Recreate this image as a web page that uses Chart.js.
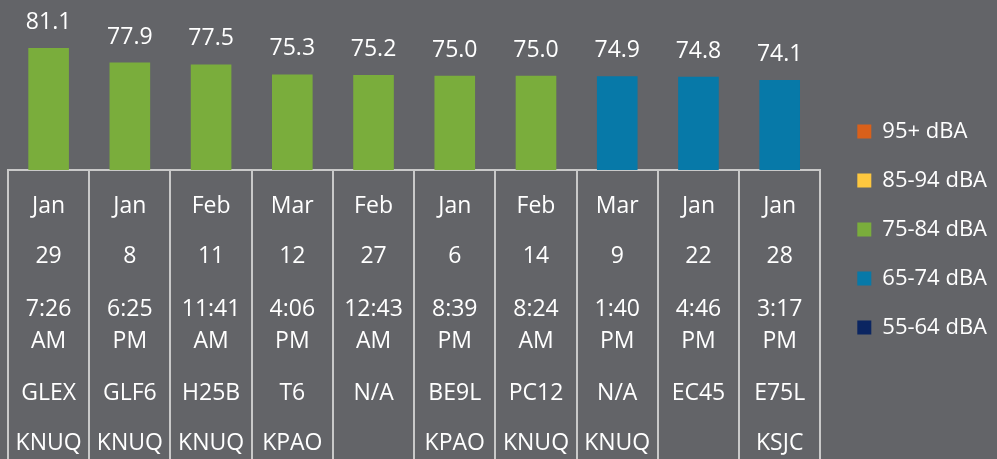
<!DOCTYPE html>
<html>
<head>
<meta charset="utf-8">
<script src="https://cdn.jsdelivr.net/npm/chart.js@4.4.1/dist/chart.umd.min.js"></script>
<style>
  html, body { margin: 0; padding: 0; background: #636468; }
  #wrap { width: 997px; height: 459px; }
</style>
</head>
<body>
<div id="wrap"><canvas id="myChart"></canvas></div>
<script>
// noise events, loudest first
const months = ["Jan", "Jan", "Feb", "Mar", "Feb", "Jan", "Feb", "Mar", "Jan", "Jan"];
const days = ["29", "8", "11", "12", "27", "6", "14", "9", "22", "28"];
const times = ["7:26 AM", "6:25 PM", "11:41 AM", "4:06 PM", "12:43 AM", "8:39 PM", "8:24 AM", "1:40 PM", "4:46 PM", "3:17 PM"];
const sites = ["GLEX", "GLF6", "H25B", "T6", "N/A", "BE9L", "PC12", "N/A", "EC45", "E75L"];
const airports = ["KNUQ", "KNUQ", "KNUQ", "KPAO", "", "KPAO", "KNUQ", "KNUQ", "", "KSJC"];
const levels = [81.1, 77.9, 77.5, 75.3, 75.2, 75.0, 75.0, 74.9, 74.8, 74.1];

const bandNames = ["95+ dBA", "85-94 dBA", "75-84 dBA", "65-74 dBA", "55-64 dBA"];
const bandLow = [95, 85, 75, 65, 55];
const bandColors = ["#d9601a", "#fdc73f", "#7aad3c", "#0779a8", "#0b2561"];

const labels = months.map((m, i) => i);

const datasets = bandNames.map((name, b) => ({
  label: name,
  data: levels.map((v) => {
    const hi = b === 0 ? 999 : bandLow[b - 1];
    return v >= bandLow[b] && v < hi ? v : null;
  }),
  backgroundColor: bandColors[b],
  borderWidth: 0,
}));

// value above each bar
const valueLabels = {
  id: "valueLabels",
  afterDatasetsDraw(chart) {
    const ctx = chart.ctx;
    ctx.save();
    ctx.fillStyle = "#ffffff";
    ctx.font = "23px 'Open Sans'";
    ctx.textAlign = "center";
    ctx.textBaseline = "alphabetic";
    chart.data.datasets.forEach((ds, d) => {
      chart.getDatasetMeta(d).data.forEach((bar, i) => {
        if (ds.data[i] == null) return;
        ctx.fillText(ds.data[i].toFixed(1), bar.x, bar.y - 19);
      });
    });
    ctx.restore();
  },
};

// table of event details under the bars
const detailTable = {
  id: "detailTable",
  afterDraw(chart) {
    const ctx = chart.ctx;
    const x = chart.scales.x;
    const top = x.top;
    ctx.save();
    ctx.fillStyle = "#ffffff";
    ctx.font = "23px 'Open Sans'";
    ctx.textAlign = "center";
    ctx.textBaseline = "alphabetic";
    levels.forEach((v, i) => {
      const cx = x.getPixelForValue(i);
      const t = times[i].split(" ");
      ctx.fillText(months[i], cx, top + 43);
      ctx.fillText(days[i], cx, top + 93);
      ctx.fillText(t[0], cx, top + 146);
      ctx.fillText(t[1], cx, top + 178);
      ctx.fillText(sites[i], cx, top + 230);
      ctx.fillText(airports[i], cx, top + 280);
    });
    ctx.restore();
  },
};

new Chart(document.getElementById("myChart"), {
  type: "bar",
  data: { labels: labels, datasets: datasets },
  options: {
    responsive: true,
    maintainAspectRatio: false,
    animation: false,
    layout: { padding: { left: 8, top: 0, right: 0, bottom: 0 } },
    datasets: { bar: { categoryPercentage: 1, barPercentage: 0.5 } },
    scales: {
      x: {
        stacked: true,
        grid: {
          offset: true,
          drawOnChartArea: false,
          drawTicks: true,
          tickLength: 289,
          color: "#c9c9c9",
          lineWidth: 2,
        },
        border: { display: true, color: "#c9c9c9", width: 2 },
        ticks: { display: false },
      },
      y: {
        stacked: true,
        position: "right",
        min: 54.4,
        max: 91.6,
        grid: { display: false },
        border: { display: false },
        ticks: { display: false },
        afterFit: (scale) => {
          scale.width = 10;
        },
      },
    },
    plugins: {
      tooltip: { enabled: false },
      legend: {
        position: "right",
        labels: {
          color: "#ffffff",
          font: { family: "'Open Sans'", size: 22 },
          boxWidth: 14,
          boxHeight: 14,
          padding: 27,
        },
      },
    },
  },
  plugins: [valueLabels, detailTable],
});
</script>
</body>
</html>
